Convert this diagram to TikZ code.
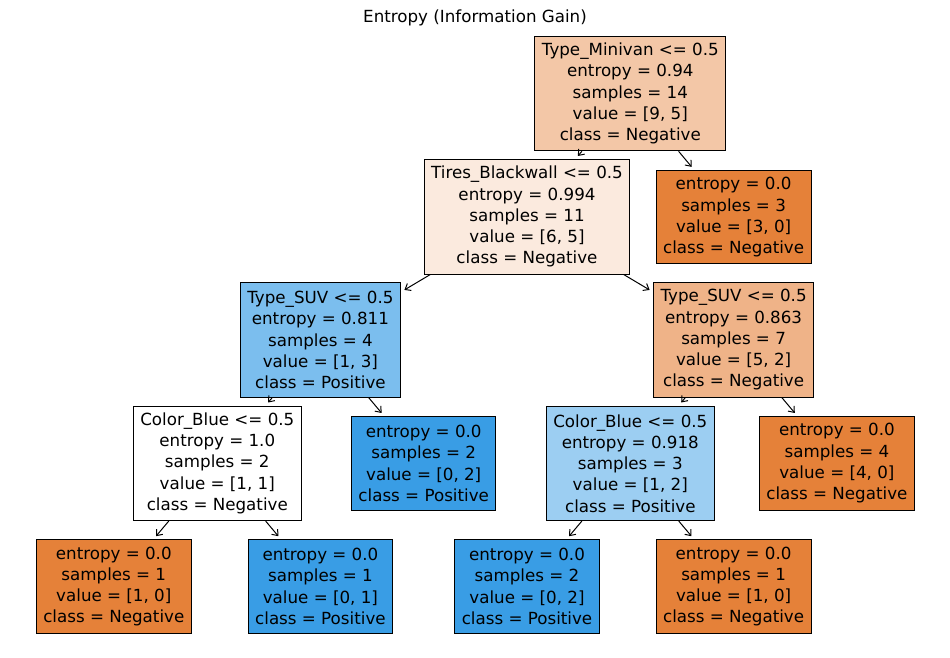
\documentclass[tikz,border=0pt]{standalone}
\usepackage{fontspec}
\setmainfont{DejaVu Sans}
\usetikzlibrary{arrows.meta}
\definecolor{negfill}{HTML}{E58139}
\definecolor{posfill}{HTML}{399DE5}
\definecolor{rootfill}{HTML}{F3C7A7}
\definecolor{tiresfill}{HTML}{FBEADE}
\definecolor{suvlfill}{HTML}{7BBEEE}
\definecolor{suvrfill}{HTML}{EFB388}
\definecolor{cbrfill}{HTML}{9CCEF2}

\begin{document}
\begin{tikzpicture}[x=1pt,y=-1pt,>={Straight Barb[length=5pt,width=8pt]},
  every node/.style={font=\fontsize{16.7}{21.25}\selectfont},
  treebox/.style={draw=black,line width=1pt,align=center,inner xsep=7pt,inner ysep=0pt},
  splitbox/.style={treebox,minimum height=114.5pt},
  leafbox/.style={treebox,minimum height=93.5pt},
  edge/.style={->,line width=1pt,shorten >=4pt}]
  \useasboundingbox (0,0) rectangle (950,658);
  \node (title) at (475,18) {Entropy (Information Gain)};
  % splits
  \node[splitbox,fill=rootfill] (root) at (630.3,93.5)
    {Type\_Minivan <= 0.5\\entropy = 0.94\\samples = 14\\value = [9, 5]\\class = Negative};
  \node[splitbox,fill=tiresfill] (tires) at (527,216.8)
    {Tires\_Blackwall <= 0.5\\entropy = 0.994\\samples = 11\\value = [6, 5]\\class = Negative};
  \node[splitbox,fill=suvlfill] (suvl) at (320.4,340)
    {Type\_SUV <= 0.5\\entropy = 0.811\\samples = 4\\value = [1, 3]\\class = Positive};
  \node[splitbox,fill=suvrfill] (suvr) at (733.6,340)
    {Type\_SUV <= 0.5\\entropy = 0.863\\samples = 7\\value = [5, 2]\\class = Negative};
  \node[splitbox,fill=white] (cbl) at (217.3,463.3)
    {Color\_Blue <= 0.5\\entropy = 1.0\\samples = 2\\value = [1, 1]\\class = Negative};
  \node[splitbox,fill=cbrfill] (cbr) at (630.3,463.3)
    {Color\_Blue <= 0.5\\entropy = 0.918\\samples = 3\\value = [1, 2]\\class = Positive};
  % leaves
  \node[leafbox,fill=negfill] (leafa) at (733.6,217.2)
    {entropy = 0.0\\samples = 3\\value = [3, 0]\\class = Negative};
  \node[leafbox,fill=posfill] (leafb) at (423.7,463.3)
    {entropy = 0.0\\samples = 2\\value = [0, 2]\\class = Positive};
  \node[leafbox,fill=negfill] (leafc) at (836.9,463.3)
    {entropy = 0.0\\samples = 4\\value = [4, 0]\\class = Negative};
  \node[leafbox,fill=negfill] (leafd) at (113.8,586.5)
    {entropy = 0.0\\samples = 1\\value = [1, 0]\\class = Negative};
  \node[leafbox,fill=posfill] (leafe) at (320.4,586.5)
    {entropy = 0.0\\samples = 1\\value = [0, 1]\\class = Positive};
  \node[leafbox,fill=posfill] (leaff) at (527,586.5)
    {entropy = 0.0\\samples = 2\\value = [0, 2]\\class = Positive};
  \node[leafbox,fill=negfill] (leafg) at (733.6,586.5)
    {entropy = 0.0\\samples = 1\\value = [1, 0]\\class = Negative};
  % edges
  \draw[edge] (root) -- (tires);
  \draw[edge] (root) -- (leafa);
  \draw[edge] (tires) -- (suvl);
  \draw[edge] (tires) -- (suvr);
  \draw[edge] (suvl) -- (cbl);
  \draw[edge] (suvl) -- (leafb);
  \draw[edge] (suvr) -- (cbr);
  \draw[edge] (suvr) -- (leafc);
  \draw[edge] (cbl) -- (leafd);
  \draw[edge] (cbl) -- (leafe);
  \draw[edge] (cbr) -- (leaff);
  \draw[edge] (cbr) -- (leafg);
\end{tikzpicture}
\end{document}
